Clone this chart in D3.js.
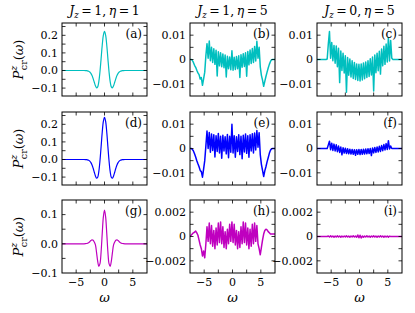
<!DOCTYPE html>
<html>
<head>
<meta charset="utf-8">
<script src="https://cdn.jsdelivr.net/npm/d3@7"></script>
<style>
html, body { margin: 0; padding: 0; background: #fff; }
svg { display: block; }
svg text { font-family: "DejaVu Serif", serif; }
</style>
</head>
<body>
<div id="vis"></div>
<script>
// frequency grid of the noisy curves (step 0.2)
const omega = [
  -7.5,-7.3,-7.1,-6.9,-6.7,-6.5,-6.3,-6.1,-5.9,-5.7,
  -5.5,-5.3,-5.1,-4.9,-4.7,-4.5,-4.3,-4.1,-3.9,-3.7,
  -3.5,-3.3,-3.1,-2.9,-2.7,-2.5,-2.3,-2.1,-1.9,-1.7,
  -1.5,-1.3,-1.1,-0.9,-0.7,-0.5,-0.3,-0.1,0.1,0.3,
  0.5,0.7,0.9,1.1,1.3,1.5,1.7,1.9,2.1,2.3,
  2.5,2.7,2.9,3.1,3.3,3.5,3.7,3.9,4.1,4.3,
  4.5,4.7,4.9,5.1,5.3,5.5,5.7,5.9,6.1,6.3,
  6.5,6.7,6.9,7.1,7.3,7.5
];

// grid of the smooth curves (eta = 1 column)
const omegaSmooth = [-7.5,
  -3.6,-3.4,-3.2,-3.0,-2.8,-2.6,-2.4,-2.2,-2.0,-1.8,-1.6,-1.4,-1.2,-1.0,-0.8,-0.6,-0.4,-0.2,
  0,
  0.2,0.4,0.6,0.8,1.0,1.2,1.4,1.6,1.8,2.0,2.2,2.4,2.6,2.8,3.0,3.2,3.4,3.6,
  7.5];

// (a), (d), (g)
const valuesA = [0,
  -0.0001,-0.0003,-0.0008,-0.0019,-0.0042,-0.0087,-0.0166,-0.0289,-0.0463,-0.067,-0.0868,-0.0985,-0.093,-0.063,-0.0068,0.0674,0.1435,0.201,
  0.222,
  0.201,0.1435,0.0674,-0.0068,-0.063,-0.093,-0.0985,-0.0868,-0.067,-0.0463,-0.0289,-0.0166,-0.0087,-0.0042,-0.0019,-0.0008,-0.0003,-0.0001,
  0];
const valuesD = [0,
  -0.0001,-0.0003,-0.0009,-0.002,-0.0045,-0.0094,-0.0179,-0.0312,-0.05,-0.0724,-0.0937,-0.1064,-0.1005,-0.068,-0.0074,0.0728,0.155,0.217,
  0.24,
  0.217,0.155,0.0728,-0.0074,-0.068,-0.1005,-0.1064,-0.0937,-0.0724,-0.05,-0.0312,-0.0179,-0.0094,-0.0045,-0.002,-0.0009,-0.0003,-0.0001,
  0];
const valuesG = [0,
  0,0.0003,0.001,0.002,0.004,0.007,0.011,0.0135,0.012,0.006,-0.004,-0.03,-0.06,-0.077,-0.068,-0.028,0.035,0.092,
  0.115,
  0.092,0.035,-0.028,-0.068,-0.077,-0.06,-0.03,-0.004,0.006,0.012,0.0135,0.011,0.007,0.004,0.002,0.001,0.0003,0,
  0];

// noisy curves, in units of 1e-3
const valuesB = [
  0,0,-0.3,-1.2,-2.4,-3.2,-4.4,-5.5,-6.2,-8.0,
  -7.4,-10.6,-8.0,-5.2,1.5,6.5,0.5,7.6,-0.5,5.0,
  -1.2,4.4,-2.0,3.8,-6.8,3.2,-2.6,2.8,-3.0,2.3,
  -3.4,1.8,-7.2,1.3,-3.8,1.0,-4.2,3.6,-4.4,0.9,
  -4.1,1.2,-3.8,1.5,-7.4,2.0,-3.2,2.4,-2.9,2.8,
  -6.9,3.3,-2.2,3.9,-1.6,4.5,-1.2,5.3,-0.6,7.5,
  0.5,5.0,-3.0,-6.5,-8.5,-11.0,-9.0,-7.0,-5.2,-3.5,
  -2.0,-0.8,-0.1,0,0,0
];
const valuesC = [
  0,0,0,0,0,0,0,0,0,0.2,
  6.5,11.5,0.5,7.0,-0.5,5.8,-1.5,5.5,-3.0,4.6,
  -9.5,3.5,-4.5,2.6,-5.5,1.5,-13.5,0.8,-6.5,0.2,
  -7.2,-0.5,-7.8,-1.2,-8.2,-1.8,-8.6,-2.0,-8.8,-1.8,
  -8.4,-1.4,-7.9,-1.0,-7.4,-0.5,-7.0,0.3,-6.4,1.0,
  -12.9,1.8,-5.4,2.6,-4.6,3.4,-6.0,4.3,-2.6,5.4,
  -2.0,6.4,-1.0,9.0,-0.6,7.8,0.5,0,0,0,
  0,0,0,0,0,0
];
const valuesE = [
  0,0,-0.3,-1.0,-2.2,-3.5,-5.0,-6.3,-7.5,-9.0,
  -9.5,-11.8,-8.5,-5.0,1.0,7.2,0.0,6.6,-1.5,6.0,
  -0.8,5.6,-3.5,5.2,-1.2,6.2,-1.8,5.0,-4.0,5.4,
  -1.0,4.8,-2.2,5.8,-3.8,5.0,-1.5,10.0,-1.8,5.2,
  -3.6,4.8,-1.2,5.6,-2.5,5.0,-4.2,5.4,-1.4,6.0,
  -2.0,5.2,-3.6,5.6,-1.0,6.1,-1.8,6.4,-0.6,7.4,
  0.5,6.5,-2.5,-6.5,-9.0,-11.5,-9.2,-7.5,-5.5,-3.8,
  -2.0,-0.7,-0.1,0,0,0
];
const valuesF = [
  0,0,0,0,0,0,0,0,0,0,
  1.5,3.0,-0.5,2.2,-0.8,1.8,-1.0,1.5,-1.3,1.0,
  -1.6,0.6,-2.6,0.3,-1.9,0.1,-2.1,-0.1,-2.2,-0.3,
  -2.3,-0.4,-2.4,-0.5,-2.8,-0.5,-2.4,-0.4,-2.5,-0.4,
  -2.4,-0.3,-2.3,-0.2,-2.2,-0.1,-2.1,0.0,-2.9,0.2,
  -1.8,0.4,-1.6,0.6,-1.4,0.9,-1.2,1.2,-0.9,1.6,
  -0.6,2.0,-0.4,3.2,-0.2,1.0,0,0,0,0,
  0,0,0,0,0,0
];
const valuesH = [
  0,0.1,0.2,0.3,0.35,0.45,0.3,0.1,-0.3,-0.7,
  -1.0,-1.6,-1.2,-1.75,-0.6,0.8,-0.4,1.1,-0.6,0.9,
  -0.8,0.5,-1.0,0.7,-0.7,1.1,-0.5,1.2,-0.6,0.8,
  -0.9,0.4,-1.0,0.6,-0.6,1.0,-0.4,1.2,-0.5,1.0,
  -0.7,0.5,-1.0,0.4,-0.9,0.8,-0.6,1.2,-0.5,1.1,
  -0.7,0.7,-1.0,0.6,-0.8,1.0,-0.6,1.1,-0.4,0.9,
  -0.6,-1.0,-1.5,-0.9,-0.3,0.2,0.5,0.6,0.55,0.4,
  0.3,0.2,0.2,0.2,0.2,0.2
];
const valuesI = [
  0,0,0,0,0,0,0,0,0,0,
  0.04,-0.04,0.05,-0.03,0.04,-0.05,0.03,-0.04,0.05,-0.04,
  0.04,-0.05,0.03,-0.04,0.04,-0.03,0.05,-0.04,0.03,-0.05,
  0.04,-0.03,0.05,-0.04,0.04,-0.06,0.12,-0.1,0.1,-0.12,
  0.04,-0.05,0.03,-0.04,0.05,-0.04,0.03,-0.05,0.04,-0.03,
  0.05,-0.04,0.03,-0.05,0.04,-0.04,0.05,-0.03,0.04,-0.05,
  0.03,-0.04,0.04,-0.05,0.03,0,0,0,0,0,
  0,0,0,0,0,0
];

// column titles [Jz, eta]
const titles = [['1', '1'], ['1', '5'], ['0', '5']];
const panelNames = ['(a)','(b)','(c)','(d)','(e)','(f)','(g)','(h)','(i)'];

// ticks
const xTicks = [-7.5, -5, -2.5, 0, 2.5, 5, 7.5];
const xLabelTicks = [-5, 0, 5];
const xTickLabels = ['\u22125', '0', '5'];
const yTicksBig = [-0.1, -0.05, 0, 0.05, 0.1, 0.15, 0.2, 0.25];
const yLabelTicksBig = [-0.1, 0, 0.1, 0.2];
const yTickLabelsBig = ['\u22120.1', '0.0', '0.1', '0.2'];
const yTicksG = [-0.1, -0.05, 0, 0.05, 0.1];
const yLabelTicksG = [-0.1, 0, 0.1];
const yTickLabelsG = ['\u22120.1', '0.0', '0.1'];
const yTicksMid = [-0.015, -0.01, -0.005, 0, 0.005, 0.01, 0.015];
const yLabelTicksMid = [-0.01, 0, 0.01];
const yTickLabelsMid = ['\u22120.01', '0', '0.01'];
const yTicksSmall = [-0.003, -0.002, -0.001, 0, 0.001, 0.002, 0.003];
const yLabelTicksSmall = [-0.002, 0, 0.002];
const yTickLabelsSmall = ['\u22120.002', '0', '0.002'];

const CYAN = '#00bfbf', BLUE = '#0000ff', MAGENTA = '#bf00bf';

// layout
const W = 415, H = 313;
const colLeft = [62, 190, 317], panelW = 85;
const rowTop = [23, 112, 200], panelH = 73;
const xDomain = [-7.5, 7.5];

const bigY = { dom: [-0.145, 0.27], ticks: yTicksBig, lt: yLabelTicksBig, ll: yTickLabelsBig };
const gY = { dom: [-0.1, 0.15], ticks: yTicksG, lt: yLabelTicksG, ll: yTickLabelsG };
const midY = { dom: [-0.015, 0.015], ticks: yTicksMid, lt: yLabelTicksMid, ll: yTickLabelsMid };
const smallY = { dom: [-0.003, 0.003], ticks: yTicksSmall, lt: yLabelTicksSmall, ll: yTickLabelsSmall };

const panels = [
  { xs: omegaSmooth, ys: valuesA, k: 1, color: CYAN, ax: bigY, smooth: true },
  { xs: omega, ys: valuesB, k: 1e-3, color: CYAN, ax: midY },
  { xs: omega, ys: valuesC, k: 1e-3, color: CYAN, ax: midY },
  { xs: omegaSmooth, ys: valuesD, k: 1, color: BLUE, ax: bigY, smooth: true },
  { xs: omega, ys: valuesE, k: 1e-3, color: BLUE, ax: midY },
  { xs: omega, ys: valuesF, k: 1e-3, color: BLUE, ax: midY },
  { xs: omegaSmooth, ys: valuesG, k: 1, color: MAGENTA, ax: gY, smooth: true },
  { xs: omega, ys: valuesH, k: 1e-3, color: MAGENTA, ax: smallY },
  { xs: omega, ys: valuesI, k: 1e-3, color: MAGENTA, ax: smallY }
];

const svg = d3.select('#vis').append('svg')
  .attr('width', W).attr('height', H)
  .attr('viewBox', `0 0 ${W} ${H}`);

const TICK = 3.5;

panels.forEach((p, idx) => {
  const row = Math.floor(idx / 3), col = idx % 3;
  const x0 = colLeft[col], y0 = rowTop[row];
  const x = d3.scaleLinear().domain(xDomain).range([x0, x0 + panelW]);
  const y = d3.scaleLinear().domain(p.ax.dom).range([y0 + panelH, y0]);
  const g = svg.append('g');

  const clipId = 'clip' + idx;
  svg.append('clipPath').attr('id', clipId).append('rect')
    .attr('x', x0).attr('y', y0).attr('width', panelW).attr('height', panelH);

  // curve
  const line = d3.line()
    .x((d, i) => x(p.xs[i]))
    .y(d => y(d * p.k))
    .curve(p.smooth ? d3.curveCatmullRom : d3.curveLinear);
  g.append('path')
    .attr('clip-path', `url(#${clipId})`)
    .attr('d', line(p.ys))
    .attr('fill', 'none')
    .attr('stroke', p.color)
    .attr('stroke-width', p.smooth ? 1.2 : 1.5)
    .attr('stroke-linejoin', 'round');

  // inward ticks on all four sides
  const tk = g.append('g').attr('stroke', '#000').attr('stroke-width', 0.8);
  xTicks.forEach(t => {
    const xx = x(t);
    if (xx <= x0 + 0.5 || xx >= x0 + panelW - 0.5) return;
    tk.append('line').attr('x1', xx).attr('x2', xx).attr('y1', y0 + panelH).attr('y2', y0 + panelH - TICK);
    tk.append('line').attr('x1', xx).attr('x2', xx).attr('y1', y0).attr('y2', y0 + TICK);
  });
  p.ax.ticks.forEach(t => {
    const yy = y(t);
    if (yy <= y0 + 0.5 || yy >= y0 + panelH - 0.5) return;
    tk.append('line').attr('x1', x0).attr('x2', x0 + TICK).attr('y1', yy).attr('y2', yy);
    tk.append('line').attr('x1', x0 + panelW).attr('x2', x0 + panelW - TICK).attr('y1', yy).attr('y2', yy);
  });

  // frame
  g.append('rect')
    .attr('x', x0).attr('y', y0).attr('width', panelW).attr('height', panelH)
    .attr('fill', 'none').attr('stroke', '#000').attr('stroke-width', 1);

  // y tick labels
  p.ax.lt.forEach((t, i) => {
    g.append('text')
      .attr('x', x0 - 4).attr('y', y(t)).attr('dy', '0.35em')
      .attr('text-anchor', 'end').attr('font-size', 11)
      .text(p.ax.ll[i]);
  });

  // x tick labels and axis title on the bottom row
  if (row === 2) {
    xLabelTicks.forEach((t, i) => {
      g.append('text')
        .attr('x', x(t)).attr('y', y0 + panelH + 13)
        .attr('text-anchor', 'middle').attr('font-size', 11)
        .text(xTickLabels[i]);
    });
    g.append('text')
      .attr('x', x0 + panelW / 2).attr('y', y0 + panelH + 29)
      .attr('text-anchor', 'middle').attr('font-size', 13)
      .attr('font-style', 'italic')
      .text('\u03c9');
  }

  // panel label
  g.append('text')
    .attr('x', x0 + panelW - 5).attr('y', y0 + 15)
    .attr('text-anchor', 'end').attr('font-size', 12)
    .text(panelNames[idx]);

  // column title
  if (row === 0) {
    const t = g.append('text')
      .attr('x', x0 + panelW / 2).attr('y', 15)
      .attr('text-anchor', 'middle').attr('font-size', 12.5);
    t.append('tspan').attr('font-style', 'italic').text('J');
    t.append('tspan').attr('font-style', 'italic').attr('font-size', 8.5).attr('dy', 3).text('z');
    t.append('tspan').attr('dy', -3).text('\u2009=\u2009' + titles[col][0] + ',\u2009');
    t.append('tspan').attr('font-style', 'italic').text('\u03b7');
    t.append('tspan').text('\u2009=\u2009' + titles[col][1]);
  }

  // y axis title on the first column
  if (col === 0) {
    const cx = 23, cy = y0 + panelH / 2;
    const t = g.append('text')
      .attr('transform', `translate(${cx},${cy}) rotate(-90)`)
      .attr('text-anchor', 'middle').attr('font-size', 13);
    t.append('tspan').attr('font-style', 'italic').text('P');
    t.append('tspan').attr('font-style', 'italic').attr('font-size', 9.5).attr('dy', -6).text('z');
    t.append('tspan').attr('font-size', 9.5).attr('dx', -4.5).attr('dy', 10).text('cr');
    t.append('tspan').attr('dy', -4).text('(');
    t.append('tspan').attr('font-style', 'italic').text('\u03c9');
    t.append('tspan').text(')');
  }
});
</script>
</body>
</html>
